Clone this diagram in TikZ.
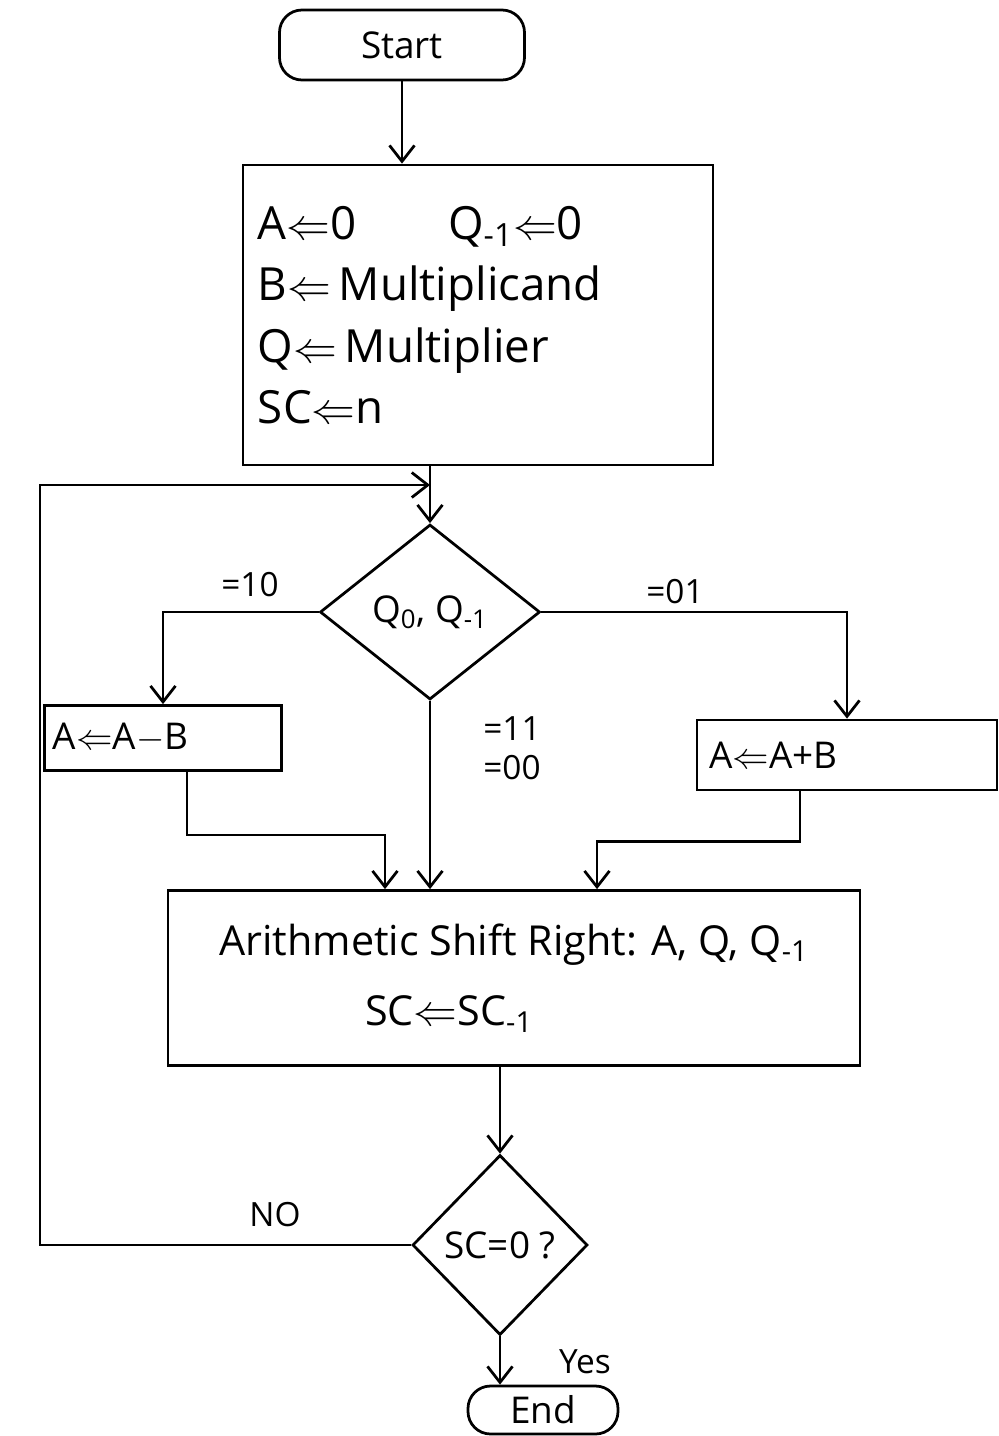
\documentclass[tikz,border=0pt]{standalone}
\usepackage{fontspec}
\setmainfont{Open Sans}
\usepackage{tikz}
\usetikzlibrary{arrows.meta,positioning,calc,shapes.geometric}
\newcommand{\lar}{$\Leftarrow$}
\newcommand{\sub}[1]{\textsubscript{#1}}

\begin{document}
\begin{tikzpicture}[
  x=0.2mm, y=-0.2mm,
  >={Straight Barb[length=3.2mm,width=5mm]},
  line width=0.55mm,
  term/.style={rectangle,draw,rounded corners=4.5mm,inner sep=0pt,font=\fontsize{21}{25}\selectfont},
  proc/.style={rectangle,draw,inner sep=0pt,font=\fontsize{21}{25}\selectfont},
  dec/.style={diamond,draw,inner sep=0pt,font=\fontsize{21}{25}\selectfont},
  lbl/.style={font=\fontsize{19}{22}\selectfont,inner sep=1pt}
]
\useasboundingbox (0,0) rectangle (999,1436);
% terminals and boxes
\node[term,minimum width=49mm,minimum height=14mm] (start) at (402,45) {Start};
\node[proc,minimum width=94mm,minimum height=60mm,text width=88mm,align=left,
      font=\fontsize{26}{35}\selectfont] (init) at (478,315)
  {A\lar0\quad\quad Q\sub{-1}\lar0\\ B\lar\,Multiplicand\\ Q\lar\,Multiplier\\ SC\lar n};
\node[dec,minimum width=44mm,minimum height=35mm] (qq) at (430,612) {Q\sub{0}, Q\sub{-1}};
\node[proc,minimum width=47.4mm,minimum height=13mm,text width=44mm,align=left] (amb) at (163,738) {A\lar A$-$B};
\node[proc,minimum width=60mm,minimum height=14mm,text width=55mm,align=left] (apb) at (847,755) {A\lar A+B};
\node[proc,minimum width=138.4mm,minimum height=35mm,align=center,
      font=\fontsize{23.5}{40}\selectfont] (asr) at (514,978)
  {Arithmetic Shift Right: A, Q, Q\sub{-1}\\ \hspace*{-26mm}SC\lar SC\sub{-1}};
\node[dec,minimum width=35mm,minimum height=36mm] (sc) at (500,1245) {SC=0 ?};
\node[term,minimum width=30mm,minimum height=9.6mm] (stop) at (543,1410) {End};
% branch labels
\node[lbl] (l10) at (250,585) {=10};
\node[lbl] (l01) at (675,592) {=01};
\node[lbl,align=left] (l11) at (512,748) {=11\\=00};
\node[lbl] (lno) at (275,1215) {NO};
\node[lbl] (lyes) at (585,1362) {Yes};
% loop junction
\coordinate (merge) at (430,485);
\coordinate (loopx) at (40,485);
% connectors
\draw[->] (start.south) -- (start.south |- init.north);
\draw[->] (init.south -| qq.north) -- (qq.north);
\draw[->] (sc.west) -- (sc.west -| loopx) -- (loopx) -- (merge);
\draw[->] (qq.west) -| (amb.north);
\draw[->] (qq.east) -| (apb.north);
\draw[->] (qq.south) -- (qq.south |- asr.north);
\draw[->] ([xshift=4.8mm]amb.south) -- ++(0,-12.6mm) -| ([xshift=-25.8mm]asr.north);
\draw[->] ([xshift=-9.4mm]apb.south) -- ++(0,-10mm) -| ([xshift=16.6mm]asr.north);
\draw[->] (asr.south -| sc.north) -- (sc.north);
\draw[->] (sc.south) -- (sc.south |- stop.north);
\end{tikzpicture}
\end{document}
